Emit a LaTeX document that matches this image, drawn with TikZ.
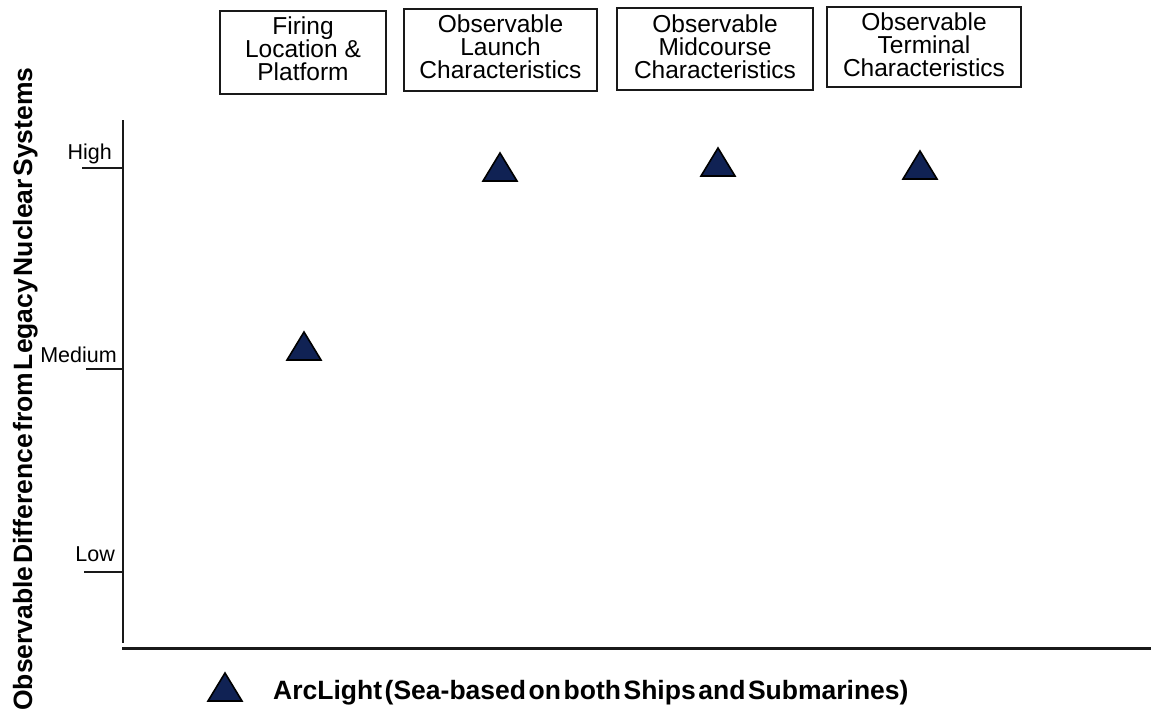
\documentclass[tikz,border=0pt]{standalone}
\usepackage{fontspec}
\setmainfont{Liberation Sans}
\newfontfamily\tightsans[WordSpace=0.35]{Liberation Sans}
\definecolor{navy}{RGB}{16,34,84}
\definecolor{ink}{RGB}{25,25,25}
\begin{document}
\begin{tikzpicture}[x=1pt,y=-1pt,
  catbox/.style={draw=ink, line width=2.4pt, inner sep=0pt},
  cattext/.style={anchor=north, inner sep=0pt, align=center,
    font=\fontsize{24.5}{23}\selectfont},
  axisline/.style={draw=ink, line width=2.6pt},
  tickline/.style={draw=ink, line width=1.8pt},
  ticklabel/.style={anchor=base east, inner sep=0pt,
    font=\fontsize{21.5}{24}\selectfont},
  boldlabel/.style={inner sep=0pt,
    font=\fontsize{26.5}{28}\tightsans\bfseries},
  marker/.pic={\draw[draw=black, line width=1.6pt, line join=miter, fill=navy]
    (-17pt,-14pt) -- (0pt,14pt) -- (17pt,-14pt) -- cycle;}]

\useasboundingbox (0,0) rectangle (1151,710);
\fill[white] (0,0) rectangle (1151,710);

% category headers
\node[catbox, minimum width=166pt, minimum height=83pt] (b1) at (303,52.5) {};
\node[catbox, minimum width=193pt, minimum height=82pt] (b2) at (500.5,50) {};
\node[catbox, minimum width=196pt, minimum height=82pt] (b3) at (715,49) {};
\node[catbox, minimum width=194pt, minimum height=80pt] (b4) at (924,47) {};
\node[cattext] (t1) at (303,16.5) {Firing\\Location \&\\Platform};
\node[cattext] (t2) at (500.5,14.5) {Observable\\Launch\\Characteristics};
\node[cattext] (t3) at (715,15) {Observable\\Midcourse\\Characteristics};
\node[cattext] (t4) at (924,13) {Observable\\Terminal\\Characteristics};

% axes
\coordinate (ytop) at (123,120);
\coordinate (ybot) at (123,643);
\coordinate (xl) at (122,648);
\coordinate (xr) at (1151,648);
\draw[axisline] (ytop) -- (ybot);
\draw[axisline, line width=3pt] (xl) -- (xr);

% level ticks
\coordinate (hi) at (123,168);
\coordinate (me) at (123,369);
\coordinate (lo) at (123,572);
\draw[tickline] (hi) -- ++(-41,0);
\draw[tickline] (me) -- ++(-37,0);
\draw[tickline] (lo) -- ++(-39,0);
\node[ticklabel] (lhi) at (112,159) {High};
\node[ticklabel] (lme) at (117,362) {Medium};
\node[ticklabel] (llo) at (115,561) {Low};

% vertical axis title
\node[boldlabel, rotate=90, anchor=base] (ytitle) at (32,389)
  {Observable Difference from Legacy Nuclear Systems};

% ArcLight ratings
\coordinate (p1) at (304,346);
\coordinate (p2) at (500,167);
\coordinate (p3) at (718,162);
\coordinate (p4) at (920,165);
\foreach \p in {p1,p2,p3,p4} \pic at (\p) {marker};

% legend
\coordinate (lg) at (225,687);
\pic at (lg) {marker};
\node[boldlabel, anchor=base west] (legend) at (273,699)
  {ArcLight (Sea-based on both Ships and Submarines)};
\end{tikzpicture}
\end{document}
